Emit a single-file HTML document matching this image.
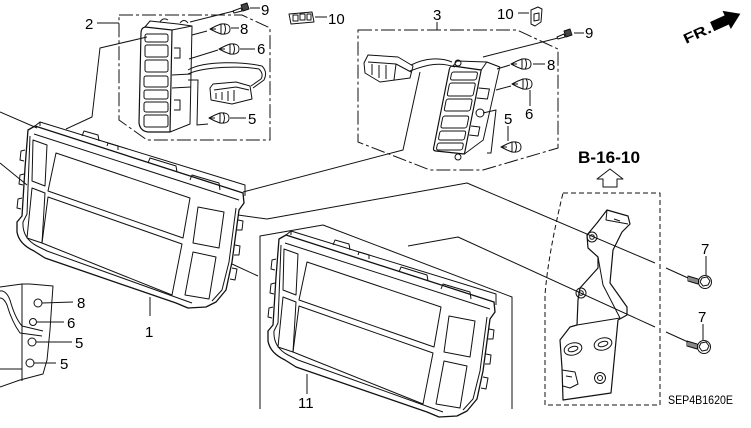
<!DOCTYPE html>
<html><head><meta charset="utf-8"><style>
html,body{margin:0;padding:0;background:#fff;}
svg{display:block;}
text{font-family:"Liberation Sans",sans-serif;fill:#000;}
</style></head><body>
<svg width="751" height="428" viewBox="0 0 751 428" xmlns="http://www.w3.org/2000/svg">
<defs>
<g id="clip">
 <path d="M-11,0 L-5,-3 L0,-5 Q9,-6 9,0 Q9,6 0,5 L-5,3 Z"/>
 <path d="M0,-5 L0,5 M3,-5.5 Q6,0 3,5.5 M-11,0 L-5,0"/>
</g>
<g id="frame">
 <path stroke-width="1.3" d="M28,130 L35,126 L243,193 L244,203 L239,210 L232,262 L226,290 L216,302 L206,307 L188,308 L176,303 L45,258 L34,251 Q19,244 17,232 L17,222 L22,216 L25,168 Z"/>
 <path d="M35,126 L40,122 L245,185 L245,196 M40,122 L40,126"/>
 <path d="M82,136 L84,131 L98,135 L99,141 M107,146 L108,143 L118,146 L118,150 M148,163 L150,158 L176,166 L177,172 M190,180 L192,175 L219,183 L220,190"/>
 <path d="M34,134 L239,200 M236,208 L229,262 L222,290 L212,301 M30,136 L27,214 L23,222 Q22,238 37,246 L47,251 L178,298 L192,303"/>
 <path d="M56,153 L190,198 L183,238 L48,191 Z"/>
 <path d="M48,197 L182,244 L172,295 L42,243 Z"/>
 <path d="M33,140 L47,145 L45,186 L32,181 Z"/>
 <path d="M32,188 L45,193 L42,243 L27,238 Z"/>
 <path d="M198,207 L224,212 L219,248 L193,243 Z"/>
 <path d="M193,252 L216,257 L209,299 L185,295 Z"/>
 <path d="M25,150 L21,151 L20,160 L24,161 M24,174 L20,175 L19,184 L23,185 M22,198 L18,199 L17,208 L21,209"/>
 <path d="M238,220 L243,221 L242,230 L237,230 M235,245 L240,246 L239,255 L234,255 M232,268 L237,269 L235,280 L230,279"/>
</g>
<g id="s7">
 <path d="M-17,-5 L-7,-2 L-7,3 L-17,0 Z"/>
 <path d="M-15,-4.5 L-15,0.5 M-13,-4 L-13,1 M-11,-3.3 L-11,1.8 M-9,-2.7 L-9,2.3"/>
 <circle cx="0" cy="1" r="6.5"/>
 <path d="M-3,-3 L2,-4 L5,0 L3,4 L-2,5 L-5,1 Z"/>
</g>
</defs>

<g fill="none" stroke="#111" stroke-width="1" stroke-linejoin="round">

<!-- Frames -->
<use href="#frame"/>
<use href="#frame" transform="translate(251,109)"/>

<!-- Box 2 (dash-dot) -->
<path stroke-dasharray="14,3,3,3" d="M119,15 L242,15 L270,28 L270,140 L147,140 L119,120 Z"/>
<path d="M97,23 L119,23"/>
<!-- Switch 2 -->
<path stroke-width="1.2" d="M145,27 L172,30 L170,132 L148,132 Q140,131 139,123 L141,33 Q141,28 145,27 Z"/>
<path d="M145,27 L150,21 L178,24 L192,26 L190,124 L170,132 M172,30 L192,26"/>
<path d="M160,22 Q163,17 168,20 M180,23 Q184,18 188,23"/>
<rect x="145" y="34" width="23" height="8" rx="2"/>
<rect x="145" y="45" width="23" height="12" rx="2"/>
<rect x="145" y="60" width="23" height="12" rx="2"/>
<rect x="144" y="76" width="24" height="11" rx="2"/>
<rect x="144" y="90" width="24" height="9" rx="2"/>
<rect x="144" y="102" width="24" height="10" rx="2"/>
<rect x="144" y="115" width="24" height="12" rx="2"/>
<path d="M174,48 L180,48 L180,58 L174,58 M174,100 L180,100 L180,110 L174,110 M172,75 L191,74 M172,88 L191,87"/>
<!-- connector 2 -->
<path d="M188,70 C205,60 245,62 262,66 Q268,72 264,80 L253,88"/>
<path d="M188,74 C205,66 243,66 259,69 Q264,74 261,79 L251,86"/>
<path d="M210,88 L213,84 L236,82 L250,86 L252,99 L232,104 L211,100 Z"/>
<path d="M214,90 L236,87 L249,90 M216,93 L216,99 M222,92 L222,100 M228,91 L228,101 M234,90 L234,101"/>
<!-- leaders box 2 -->
<path d="M234,11 L190,22 M207,31 L192,35 M218,50 L189,59 M188,80 L198,80 L197,125 L208,124"/>
<path d="M233,11 L241,8 L242,11 L234,13 Z"/>
<path d="M241,5 L247,3 L249,9 L243,11 Z" fill="#444"/>
<path d="M250,8 L260,8 M231,28 L239,28 M240,49 L255,49 M230,118 L246,118"/>
<use href="#clip" transform="translate(221,29)"/>
<use href="#clip" transform="translate(230,49)"/>
<use href="#clip" transform="translate(220,118)"/>
<!-- part 10 -->
<path d="M289,14 L312,12 L314,22 L291,24 Z"/>
<path d="M293,15 L298,15 L298,21 L293,21 Z M300,14 L305,14 L305,20 L300,20 Z M307,14 L311,14 L311,20 L307,20 Z"/>
<path d="M315,17 L327,17"/>

<!-- line from switch 2 to frame 1 -->
<path d="M147,37 L100,48 L92,117 L66,129"/>
<path d="M0,112 L37,128 M0,163 L27,185"/>

<!-- Box 3 -->
<path stroke-dasharray="14,3,3,3" d="M358,30 L517,30 L558,49 L558,148 L483,170 L430,170 L358,142 Z"/>
<path d="M437,22 L437,30"/>
<!-- switch 3 -->
<g transform="translate(450,66) skewX(-11.3)">
 <path stroke-width="1.2" d="M0,3 Q0,0 3,0 L32,4 L32,88 L3,85 Q0,85 0,82 Z"/>
 <path d="M32,4 L36,-4 L50,1 L48,74 L32,88 M3,0 L6,-5 L36,-4"/>
 <rect x="3" y="6" width="26" height="8" rx="2"/>
 <rect x="3" y="17" width="26" height="13" rx="2"/>
 <rect x="3" y="33" width="26" height="12" rx="2"/>
 <rect x="3" y="50" width="26" height="12" rx="2"/>
 <rect x="3" y="65" width="26" height="9" rx="2"/>
 <rect x="3" y="77" width="26" height="7" rx="2"/>
 <path d="M33,22 L44,23 L44,33 L33,32 M33,60 L42,61 L42,70 L33,69"/>
</g>
<circle cx="480" cy="113" r="4"/>
<circle cx="458" cy="157" r="3"/>
<circle cx="458" cy="63" r="3"/>
<!-- connector 3 -->
<path d="M364,63 L368,55 L398,57 L413,66 L410,78 L380,82 L365,73 Z"/>
<path d="M368,62 L396,64 L411,72 M372,64 L372,75 M379,65 L379,78 M386,65 L386,79 M396,64 L394,80"/>
<path d="M411,65 C425,58 440,57 452,62 M410,71 C428,64 440,62 455,67"/>
<!-- leaders box 3 -->
<path d="M558,38 L483,57 M510,65 L497,69 M511,86 L496,90 M483,113 L496,110 L491,153 L487,153"/>
<path d="M557,37 L564,34 L565,37 L558,39 Z"/>
<path d="M564,31 L570,29 L572,35 L566,37 Z" fill="#444"/>
<path d="M574,33 L584,33 M533,64 L545,64 M530,90 L530,106 M508,126 L508,141 M518,13 L529,13"/>
<use href="#clip" transform="translate(522,64)"/>
<use href="#clip" transform="translate(523,84)"/>
<use href="#clip" transform="translate(512,147)"/>
<path d="M531,10 L538,7 L542,9 L541,22 L535,26 L531,24 Z"/>
<path d="M534,14 L539,13 L539,20 L534,21 Z"/>

<!-- connection lines -->
<path d="M243,192 L403,150 L420,72"/>
<path d="M238,215 L267,219 L467,183 L655,263 M666,268 L688,278"/>
<path d="M232,264 L258,276"/>
<path d="M408,246 L458,237 L655,327 M666,332 L688,342"/>
<!-- frame 11 box -->
<path d="M260,409 L260,236 L323,225 L512,297 L512,409"/>

<!-- leaders 1 and 11 -->
<path d="M150,297 L150,316 M307,374 L307,394"/>

<!-- B-16-10 arrow -->
<path d="M610,169 L623,179 L617,179 L617,187 L603,187 L603,179 L597,179 Z"/>
<!-- bracket dashed box -->
<path stroke-dasharray="5,3" d="M563,193 L660,193 L660,405 L545,405 L545,295 Q548,255 563,193"/>
<!-- bracket -->
<path stroke-width="1.2" d="M597,223 L607,210 L628,216 L630,224 L622,232 L613,250 L610,283 L627,307 L627,315 L618,320 L611,393 L563,400 L562,368 L560,340 L570,327 L577,325 L578,300 L580,288 L598,268 L598,257 L588,248 L587,235 Z"/>
<path d="M598,257 L603,285 L620,318 M577,325 L620,318 M607,210 L606,220 L628,224 M614,219 L620,221"/>
<circle cx="592" cy="237" r="5"/><circle cx="592" cy="237" r="2.3"/>
<circle cx="581" cy="293" r="5"/><circle cx="581" cy="293" r="2.3"/>
<ellipse cx="573" cy="349" rx="9" ry="6" transform="rotate(-15 573 349)"/>
<ellipse cx="573" cy="349" rx="5" ry="2.5" transform="rotate(-15 573 349)"/>
<ellipse cx="603" cy="344" rx="9" ry="6" transform="rotate(-15 603 344)"/>
<ellipse cx="603" cy="344" rx="5" ry="2.5" transform="rotate(-15 603 344)"/>
<circle cx="600" cy="378" r="5.5"/><circle cx="600" cy="378" r="2.5"/>
<path d="M562,370 L575,372 L578,384 L570,388 L563,386 M566,376 L572,377"/>
<!-- screws 7 -->
<use href="#s7" transform="translate(705,281)"/>
<use href="#s7" transform="translate(704,346)"/>
<path d="M706,256 L706,275 M703,324 L703,340"/>

<!-- lower-left partial part -->
<path d="M0,287 L22,284 L30,284 L53,286 L52,300 L50,330 L47,360 L43,374 L20,380 L0,387"/>
<path d="M22,284 L22,381 M0,369 L22,369"/>
<path d="M0,291 Q6,290 10,300 Q15,318 22,326 L43,331 M0,298 Q4,298 7,305 Q12,322 20,333 L42,336"/>
<circle cx="38" cy="303" r="4"/>
<circle cx="33" cy="322" r="3.5"/>
<circle cx="32" cy="342" r="4"/>
<circle cx="30" cy="363" r="4"/>
<path d="M42,303 L73,302 M37,322 L64,322 M36,342 L72,342 M34,363 L56,363"/>
</g>

<!-- labels -->
<g font-size="15">
<text x="85" y="29">2</text>
<text x="261" y="15">9</text>
<text x="240" y="34">8</text>
<text x="257" y="54">6</text>
<text x="248" y="124">5</text>
<text x="328" y="24">10</text>
<text x="433" y="20">3</text>
<text x="497" y="19">10</text>
<text x="585" y="38">9</text>
<text x="547" y="70">8</text>
<text x="525" y="119">6</text>
<text x="504" y="124">5</text>
<text x="145" y="337">1</text>
<text x="298" y="408">11</text>
<text x="701" y="254">7</text>
<text x="698" y="322">7</text>
<text x="77" y="308">8</text>
<text x="67" y="328">6</text>
<text x="75" y="348">5</text>
<text x="60" y="369">5</text>
</g>
<text x="578" y="163" font-size="16.5" font-weight="bold" textLength="62" lengthAdjust="spacingAndGlyphs">B-16-10</text>
<text x="668" y="404" font-size="11.5" textLength="65" lengthAdjust="spacingAndGlyphs">SEP4B1620E</text>

<!-- FR arrow -->
<g transform="translate(686,44) rotate(-24.5)">
 <text x="0" y="0" font-size="14" font-weight="bold" textLength="29" lengthAdjust="spacingAndGlyphs">FR.</text>
 <path d="M31,-10 L47,-10 L47,-15 L62,-5 L47,5 L47,0 L31,0 Z" fill="#000"/>
</g>
</svg>
</body></html>
